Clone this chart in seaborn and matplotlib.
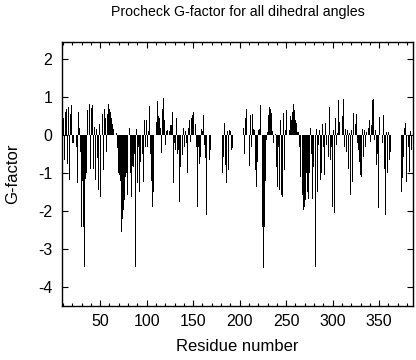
import matplotlib
matplotlib.use('Agg')
import matplotlib.pyplot as plt
import seaborn as sns
import numpy as np
import pandas as pd
from matplotlib.ticker import MultipleLocator

# G-factor per residue; each list starts at the residue in seg_starts
seg_starts = [10, 70, 134, 181, 204, 256, 319, 374]

gf_a = [-0.55, 0.44, -0.65, 0.62, 0.70, -0.75, 0.73, -1.17, 0.55, 0.79,
        -0.2, -0.22, 0.57, -1.38, 0.62, -0.3, -1.27, 0.61, 0.18, -0.45,
        -2.41, -1.2, -2.41, -3.48, -1.15, -1.0, 0.66, 0.92, 0.78, 0.82,
        -0.88, 0.72, 0.79, -0.88, 0.22, -1.18, 0.15, -0.6, -1.45, 0.3,
        -1.62, -0.5, 0.61, 0.55, -0.92, 0.7, 0.45, -0.45, 0.55, 0.82,
        0.7, 0.6, 0.45, 0.3, 0.15, -0.1, -0.3, 0.1, 0.05, -0.35]
gf_b = [-1.0, -1.05, -1.2, -2.54, -2.2, -1.97, -1.7, -1.1, -1.0, -1.58,
        -1.27, -0.9, 0.18, -1.0, -1.62, -0.8, -0.85, -0.5, -3.47, 0.15,
        -1.27, -0.3, -1.49, -0.7, 0.31, 0.31, -0.5, -1.23, 0.39, -0.3,
        0.41, -0.3, 0.1, 0.76, -0.5, -1.2, -1.89, -1.5, -2.0, 0.2,
        0.46, 0.35, 0.9, 0.5, 0.46, 0.2, -0.46, 0.7, 0.99, 0.4,
        -0.26, 0.1, 0.13, -1.18, -1.58, 0.1, 0.26, 0.26, 0.61, -1.27,
        -0.2, -0.4, 0.44, -0.5]
gf_c = [-0.4, -1.75, -0.83, -0.3, 0.15, -0.52, 0.18, -0.3, 0.1, -0.2,
        -1.0, 0.2, 0.39, -0.18, 0.45, 0.53, 0.6, 0.79, 0.96, 0.3,
        -0.3, -1.89, -0.3, -0.75, -0.57, 0.15, 0.1, 0.53, -0.26, -0.6,
        -2.1, -0.92, -0.8, 0.1, -0.66, -0.4]
gf_d = [-1.49, -1.0, -0.57, 0.32, -0.79, -1.27, 0.1, -0.92, 0.13, 0.11, -0.4, -0.35]
gf_e = [0.18, -0.5, 0.44, 0.7, -0.66, 0.79, -0.79, -0.82, 0.53, -0.3,
        0.57, 0.15, 0.13, -0.92, -1.36, -0.7, 0.13, 0.15, 0.79, -0.57,
        -1.2, -2.41, -3.5, -2.41, -1.2, -0.13, 0.09, 0.53, 0.73, 0.68,
        0.59, 0.12, -0.2, -0.31, -0.7, 0.04, -0.83, -1.36, -0.31, -1.45,
        0.41, -1.58, -1.62, 0.59, -0.92, 0.13, 0.66, -0.26, 0.61, 0.1,
        0.13, 0.5]
gf_f = [0.39, 0.6, 0.82, 0.66, 0.4, 0.31, 0.09, 0.08, -0.3, -1.1,
        -1.05, -2.54, -1.58, -1.97, -1.89, -1.7, -1.0, -1.5, -1.67, -1.0,
        0.18, -0.5, -1.67, -0.83, -0.92, -0.9, -3.47, 0.15, -1.49, -0.26,
        0.13, -1.18, -1.0, 0.29, -0.3, -1.05, 0.31, -0.26, 0.5, 0.44,
        -0.57, 0.75, -0.66, -0.3, -1.89, 0.13, -2.06, 0.44, -0.26, 0.05,
        0.92, 0.35, 0.96, -0.75, 0.31, 0.5, 0.96, -0.31, 0.15, -0.44,
        0.13, -0.9, 0.05]
gf_g = [-1.58, 0.13, -1.23, 0.59, -1.27, 0.22, 0.3, 0.57, -0.22, -0.4,
        -0.7, -1.05, -1.1, 0.15, -0.57, 0.13, -0.31, 0.09, -1.0, 0.13,
        0.2, 0.39, -0.18, 0.26, 0.92, 0.96, -0.13, 0.13, -0.79, -0.5,
        -1.93, 0.48, -0.79, -0.7, -0.31, -0.2, 0.53, -0.88, -2.1, 0.09,
        -1.0, 0.09, -0.66, -0.44]
gf_h = [-1.49, -1.14, -0.57, 0.18, 0.31, -1.23, -0.83, 0.09, -0.31, -0.96, 0.1, -0.4]

x_ticks = [50, 100, 150, 200, 250, 300, 350]
y_ticks = [-4, -3, -2, -1, 0, 1, 2]

segments = [gf_a, gf_b, gf_c, gf_d, gf_e, gf_f, gf_g, gf_h]
frames = []
for start, vals in zip(seg_starts, segments):
    frames.append(pd.DataFrame({'residue': np.arange(start, start + len(vals)),
                                'gfactor': vals}))
df = pd.concat(frames, ignore_index=True)

sns.set_style('ticks')
plt.rcParams['font.family'] = ['Liberation Sans', 'DejaVu Sans']
plt.rcParams['axes.unicode_minus'] = False
for key in ['text.color', 'axes.labelcolor', 'xtick.color', 'ytick.color']:
    plt.rcParams[key] = 'black'

fig = plt.figure(figsize=(4.16, 3.6), dpi=100)
ax = fig.add_axes([0.149, 0.15, 0.844, 0.733])

sns.barplot(data=df, x='residue', y='gfactor', native_scale=True, color='black',
            width=0.9, errorbar=None, linewidth=0, saturation=1, ax=ax)

ax.set_xlim(9, 386.5)
ax.set_ylim(-4.5, 2.45)
ax.set_xticks(x_ticks)
ax.set_yticks(y_ticks)
ax.xaxis.set_minor_locator(MultipleLocator(10))
ax.tick_params(which='both', direction='in', top=True, right=True,
               labelsize=11.5, width=0.8, color='black')
ax.tick_params(which='major', length=4)
ax.tick_params(which='minor', length=2)
ax.tick_params(axis='y', pad=7)
ax.tick_params(axis='x', pad=6)
for s in ax.spines.values():
    s.set_linewidth(1.0)
    s.set_color('black')

ax.set_xlabel('Residue number', fontsize=12, labelpad=7)
ax.set_ylabel('G-factor', fontsize=12, labelpad=13)
ax.set_title('Procheck G-factor for all dihedral angles', fontsize=10.2, pad=19)

fig.savefig('out.png', dpi=100)
